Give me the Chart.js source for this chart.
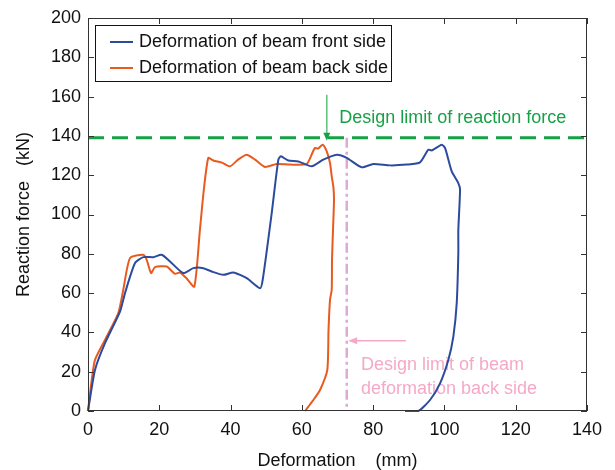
<!DOCTYPE html>
<html><head><meta charset="utf-8">
<script src="https://cdn.jsdelivr.net/npm/chart.js@4/dist/chart.umd.min.js"></script>
<style>html,body{margin:0;padding:0;background:#fff}#wrap{width:615px;height:470px}</style>
</head><body><div id="wrap"><canvas id="c" width="615" height="470"></canvas></div>
<script>
// ---- data ----
const seriesNames = ['Deformation of beam front side', 'Deformation of beam back side'];
const frontX = [0, 1.96, 4.77, 8.98, 10.38, 13.19, 15.52, 18.32, 20.68, 23.01, 26.74, 29.55, 32.35, 34.71, 37.96, 40.77, 44.53, 48.26, 49.02, 51.54, 53.40, 54.07, 56.20, 59.01, 62.77, 66.02, 69.78, 72.59, 76.80, 80.05, 84.74, 89.42, 93.15, 95.48, 96.44, 99.24, 100.17, 102.05, 103.90, 104.38, 103.90, 103.90, 103.45, 102.50, 101.09, 98.77, 95.96, 92.68, 88.95];
const frontY = [0, 20.9, 34.5, 50.6, 60.0, 75.3, 78.3, 78.3, 79.5, 76.1, 70.2, 72.7, 72.7, 71.0, 69.3, 70.5, 67.6, 62.5, 66.8, 100.7, 127.9, 129.6, 127.5, 127.0, 124.5, 127.9, 130.4, 128.8, 124.0, 125.7, 125.0, 125.4, 126.5, 133.0, 132.6, 135.5, 133.9, 121.9, 116.0, 112.6, 92.2, 80.4, 54.9, 37.9, 26.0, 14.1, 5.6, 0, 0];
const backX = [0, 1.04, 1.96, 4.77, 8.50, 9.90, 11.78, 15.52, 16.47, 17.68, 18.80, 22.08, 24.41, 25.81, 27.5, 29.83, 31.4, 32.5, 33.75, 35.16, 37.6, 39.84, 42.1, 44.53, 46.86, 49.66, 52.95, 56.68, 61.36, 63.13, 63.69, 64.53, 65.85, 66.98, 67.90, 68.38, 68.83, 69.02, 68.74, 68.46, 68.38, 67.90, 67.48, 67.14, 65.10, 63.22, 60.89];
const backY = [0, 15.8, 26.0, 36.2, 49.8, 61.7, 77.8, 79.5, 76.9, 70.2, 73.2, 73.5, 69.8, 70.5, 67.8, 63.3, 92.2, 112.6, 128.8, 127.5, 126.4, 124.5, 127.9, 130.4, 127.9, 124.2, 125.7, 125.4, 125.7, 132.1, 133.9, 133.5, 135.5, 132.1, 126.2, 119.4, 114.3, 107.5, 92.2, 76.9, 61.7, 56.6, 41.3, 20.9, 10.7, 5.6, 0];
const xTicks = [0, 20, 40, 60, 80, 100, 120, 140];
const yTicks = [0, 20, 40, 60, 80, 100, 120, 140, 160, 180, 200];
const forceLimit = 139;          // kN, green dashed line
const deformLimit = 72.6;        // mm, pink dash-dot line
const forceLabel = 'Design limit of reaction force';
const deformLabel = ['Design limit of beam', 'deformation back side'];
const xTitle = 'Deformation    (mm)';
const yTitle = 'Reaction force   (kN)';

// ---- styles ----
const FONT = '"Liberation Sans", Arial, Helvetica, sans-serif';
const BLUE = '#2c4b9f';
const ORANGE = '#e95a1f';
const GREEN = '#17a146';
const GREEN_LIGHT = '#5cc27c';
const PINK = '#f6a9c6';
const PINK_LINE = '#dcaad4';

const toPts = (xs, ys) => xs.map((v, i) => ({x: v, y: ys[i]}));

const deco = {
  id: 'deco',
  beforeDatasetsDraw(chart) {
    const {ctx, chartArea: a, scales: {x, y}} = chart;
    ctx.save();
    // pink dash-dot vertical limit
    const dx = x.getPixelForValue(deformLimit);
    ctx.strokeStyle = PINK_LINE; ctx.lineWidth = 2.5; ctx.setLineDash([10, 4, 3, 4]);
    ctx.beginPath(); ctx.moveTo(dx, y.getPixelForValue(forceLimit)); ctx.lineTo(dx, y.getPixelForValue(1.5)); ctx.stroke();
    // green dashed horizontal limit
    const fy = y.getPixelForValue(forceLimit);
    ctx.strokeStyle = GREEN; ctx.lineWidth = 3; ctx.setLineDash([16, 8]);
    ctx.beginPath(); ctx.moveTo(a.left, fy); ctx.lineTo(a.right, fy); ctx.stroke();
    ctx.setLineDash([]);
    // green arrow
    const gx = x.getPixelForValue(67), gTop = y.getPixelForValue(161), gTip = y.getPixelForValue(137.5);
    ctx.strokeStyle = GREEN_LIGHT; ctx.lineWidth = 1.5;
    ctx.beginPath(); ctx.moveTo(gx, gTop); ctx.lineTo(gx, gTip - 6); ctx.stroke();
    ctx.fillStyle = GREEN;
    ctx.beginPath(); ctx.moveTo(gx, gTip); ctx.lineTo(gx - 3.5, gTip - 8); ctx.lineTo(gx + 3.5, gTip - 8); ctx.closePath(); ctx.fill();
    // pink arrow
    const py = y.getPixelForValue(35.7), pTip = x.getPixelForValue(73.0), pEnd = x.getPixelForValue(89.2);
    ctx.strokeStyle = PINK; ctx.lineWidth = 1.5;
    ctx.beginPath(); ctx.moveTo(pEnd, py); ctx.lineTo(pTip + 6, py); ctx.stroke();
    ctx.fillStyle = PINK;
    ctx.beginPath(); ctx.moveTo(pTip, py); ctx.lineTo(pTip + 9, py - 3.5); ctx.lineTo(pTip + 9, py + 3.5); ctx.closePath(); ctx.fill();
    // texts
    ctx.font = '18px ' + FONT; ctx.textAlign = 'left'; ctx.textBaseline = 'alphabetic';
    ctx.fillStyle = GREEN;
    ctx.fillText(forceLabel, x.getPixelForValue(70.5), y.getPixelForValue(146.6));
    ctx.fillStyle = PINK;
    ctx.fillText(deformLabel[0], x.getPixelForValue(76.6), y.getPixelForValue(20.9));
    ctx.fillText(deformLabel[1], x.getPixelForValue(76.6), y.getPixelForValue(8.5));
    ctx.restore();
  },
  afterDraw(chart) {
    const {ctx, chartArea: a, scales: {x, y}} = chart;
    ctx.save();
    // frame
    ctx.strokeStyle = '#333'; ctx.lineWidth = 1;
    ctx.strokeRect(Math.round(a.left) + 0.5, Math.round(a.top) + 0.5, Math.round(a.right - a.left) - 1, Math.round(a.bottom - a.top) - 1);
    // inward ticks
    ctx.beginPath();
    xTicks.forEach(v => {
      const p = Math.round(x.getPixelForValue(v)) + 0.5;
      ctx.moveTo(p, a.bottom); ctx.lineTo(p, a.bottom - 6);
      ctx.moveTo(p, a.top); ctx.lineTo(p, a.top + 6);
    });
    yTicks.forEach(v => {
      const p = Math.round(y.getPixelForValue(v)) + 0.5;
      ctx.moveTo(a.left, p); ctx.lineTo(a.left + 6, p);
      ctx.moveTo(a.right, p); ctx.lineTo(a.right - 6, p);
    });
    ctx.stroke();
    // legend
    const lx = 95.5, ly = 25.5, lw = 296, lh = 56;
    ctx.fillStyle = '#fff'; ctx.fillRect(lx, ly, lw, lh);
    ctx.strokeStyle = '#111'; ctx.lineWidth = 1; ctx.strokeRect(lx, ly, lw, lh);
    const rows = [[BLUE, seriesNames[0], 42], [ORANGE, seriesNames[1], 68]];
    ctx.font = '18px ' + FONT; ctx.textBaseline = 'middle'; ctx.textAlign = 'left';
    rows.forEach(([c, t, yy]) => {
      ctx.strokeStyle = c; ctx.lineWidth = 2;
      ctx.beginPath(); ctx.moveTo(110, yy); ctx.lineTo(133, yy); ctx.stroke();
      ctx.fillStyle = '#111'; ctx.fillText(t, 139, yy + 0.5);
    });
    ctx.restore();
  }
};

new Chart(document.getElementById('c'), {
  type: 'line',
  data: {
    datasets: [
      {label: seriesNames[0], data: toPts(frontX, frontY), borderColor: BLUE, borderWidth: 2, pointRadius: 0, tension: 0.2, clip: false},
      {label: seriesNames[1], data: toPts(backX, backY), borderColor: ORANGE, borderWidth: 2, pointRadius: 0, tension: 0.2, clip: false}
    ]
  },
  options: {
    responsive: false,
    animation: false,
    devicePixelRatio: 1,
    layout: {padding: {left: 0, top: 18, right: 28, bottom: 0}},
    plugins: {legend: {display: false}, tooltip: {enabled: false}},
    scales: {
      x: {
        type: 'linear', min: 0, max: 140,
        afterBuildTicks: s => { s.ticks = xTicks.map(v => ({value: v})); },
        afterFit: s => { s.height = 59; },
        grid: {display: false, drawTicks: false},
        border: {display: false},
        ticks: {font: {size: 18, family: FONT}, color: '#111', padding: 8, maxRotation: 0},
        title: {display: true, text: xTitle, color: '#111', font: {size: 18, family: FONT, lineHeight: 1}, padding: {top: 0, bottom: 0}}
      },
      y: {
        type: 'linear', min: 0, max: 200,
        afterBuildTicks: s => { s.ticks = yTicks.map(v => ({value: v})); },
        afterFit: s => { s.width = 88; },
        grid: {display: false, drawTicks: false},
        border: {display: false},
        ticks: {font: {size: 18, family: FONT}, color: '#111', padding: 7},
        title: {display: true, text: yTitle, color: '#111', font: {size: 18, family: FONT, lineHeight: 1}, padding: {top: 15, bottom: 0}}
      }
    }
  },
  plugins: [deco]
});
</script>
</body></html>
